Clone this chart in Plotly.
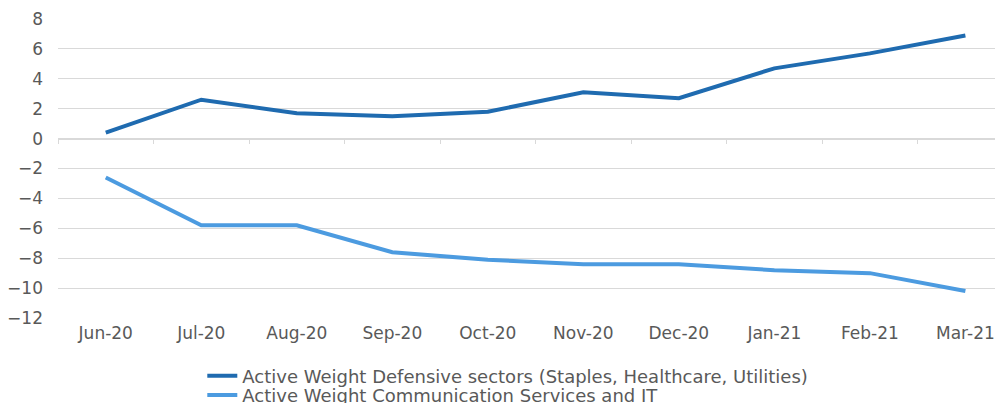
import plotly.graph_objects as go

months = ["Jun-20", "Jul-20", "Aug-20", "Sep-20", "Oct-20", "Nov-20",
          "Dec-20", "Jan-21", "Feb-21", "Mar-21"]
defensive = [0.4, 2.6, 1.7, 1.5, 1.8, 3.1, 2.7, 4.7, 5.7, 6.9]
comm_it = [-2.6, -5.8, -5.8, -7.6, -8.1, -8.4, -8.4, -8.8, -9.0, -10.2]
y_ticks = [8, 6, 4, 2, 0, -2, -4, -6, -8, -10, -12]

name1 = "Active Weight Defensive sectors (Staples, Healthcare, Utilities)"
name2 = "Active Weight Communication Services and IT"

FONT = "DejaVu Sans"
GREY = "#595959"
GRID = "#d9d9d9"
LEG_SIZE = 18
TICK_SIZE = 17

fig = go.Figure()
fig.add_trace(go.Scatter(x=months, y=defensive, mode="lines", name=name1,
                         line=dict(color="#1f6bb0", width=4), legend="legend"))
fig.add_trace(go.Scatter(x=months, y=comm_it, mode="lines", name=name2,
                         line=dict(color="#4c9be0", width=4), legend="legend2"))
# invisible trace to carry the zero-line axis with boundary ticks
fig.add_trace(go.Scatter(x=months, y=[None] * len(months), xaxis="x2",
                         showlegend=False, hoverinfo="skip"))

leg_common = dict(orientation="v", xanchor="left", yanchor="top",
                  font=dict(family=FONT, size=LEG_SIZE, color=GREY),
                  bgcolor="rgba(0,0,0,0)", itemwidth=30)

fig.update_layout(
    width=995, height=432,
    margin=dict(l=58, r=0, t=19, b=114, autoexpand=False),
    paper_bgcolor="white", plot_bgcolor="white",
    font=dict(family=FONT, color=GREY, size=TICK_SIZE),
    showlegend=True,
    legend=dict(x=0.154, y=-0.132, **leg_common),
    legend2=dict(x=0.154, y=-0.197, **leg_common),
    xaxis=dict(type="category", range=[-0.5, 9.31], showgrid=False,
               showline=False, ticks="", zeroline=False, ticklabelstandoff=3,
               tickfont=dict(size=TICK_SIZE, color=GREY)),
    xaxis2=dict(type="category", range=[-0.5, 9.31], overlaying="x",
                anchor="free", position=0.6, side="bottom",
                showline=True, linecolor=GRID, linewidth=1,
                ticks="outside", tickson="boundaries", ticklen=4,
                tickcolor=GRID, showticklabels=False, showgrid=False,
                zeroline=False),
    yaxis=dict(range=[-12, 8], tickvals=y_ticks, showgrid=True,
               gridcolor=GRID, gridwidth=1, zeroline=False, showline=False,
               ticks="", ticklabelstandoff=14,
               tickfont=dict(size=TICK_SIZE, color=GREY)),
)

fig.write_html("out.html", config={"displayModeBar": False},
               post_script="document.body.style.margin='0';"
                           "document.body.style.overflow='hidden';")
